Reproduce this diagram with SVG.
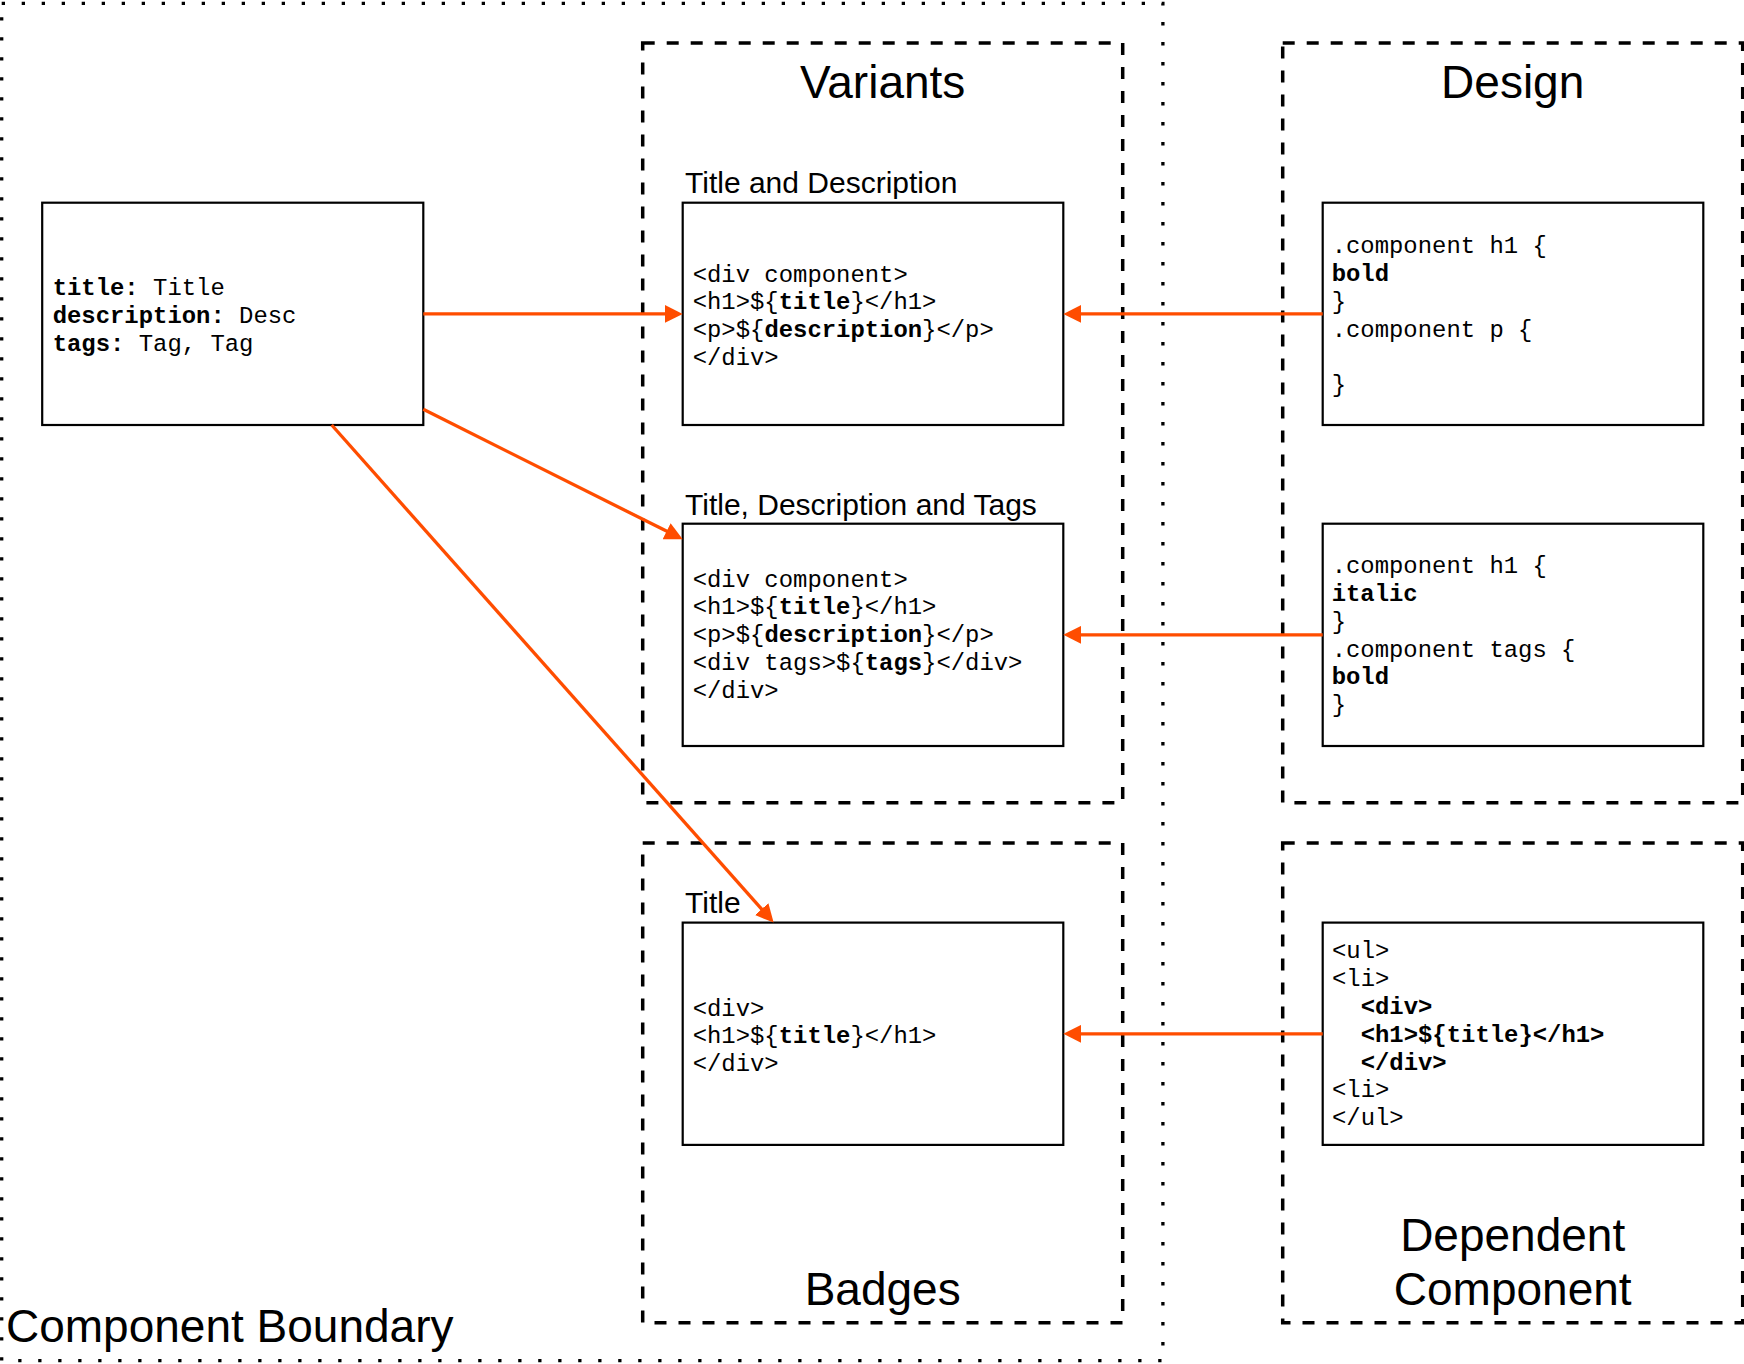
<svg xmlns="http://www.w3.org/2000/svg" width="1744" height="1364" viewBox="0 0 1744 1364">
<defs>
<style>
.bg{fill:#ffffff}
.boundary{fill:none;stroke:#000;stroke-width:3.3;stroke-dasharray:3.3 16.7}
.group{fill:none;stroke:#000;stroke-width:3.5;stroke-dasharray:12 12}
.box{fill:#fff;stroke:#000;stroke-width:2.2}
.big{font-family:"Liberation Sans",Arial,Helvetica,sans-serif;font-size:46px;fill:#000}
.sub{font-family:"Liberation Sans",Arial,Helvetica,sans-serif;font-size:30px;fill:#000}
.code{font-family:"Liberation Mono","Courier New",monospace;font-size:23.9px;fill:#000}
.b{font-weight:bold}
.conn{fill:none;stroke:#FF4D00;stroke-width:3.3}
</style>
<marker id="arrow" viewBox="0 0 18 18" markerUnits="userSpaceOnUse" markerWidth="18" markerHeight="18" refX="2" refY="9" orient="auto">
<path d="M0,0 L18,9 L0,18 z" fill="#FF4D00"/>
</marker>
</defs>
<rect class="bg" x="0" y="0" width="1744" height="1364"/>

<g id="component-boundary">
<rect class="boundary" x="1.7" y="3.3" width="1161.2" height="1357.4"/>
<text class="big" x="6" y="1342">Component Boundary</text>
</g>

<g id="variants">
<rect class="group" x="642.7" y="43" width="480" height="759.7"/>
<text class="big" x="882.7" y="98" text-anchor="middle">Variants</text>
</g>

<g id="design">
<rect class="group" x="1282.7" y="43" width="460" height="759.7"/>
<text class="big" x="1512.7" y="98" text-anchor="middle">Design</text>
</g>

<g id="badges">
<rect class="group" x="642.7" y="843" width="480" height="479.8"/>
<text class="big" x="882.7" y="1305" text-anchor="middle">Badges</text>
</g>

<g id="dependent-component">
<rect class="group" x="1282.7" y="843" width="460" height="479.8"/>
<text class="big" x="1512.7" y="1250.6" text-anchor="middle">Dependent</text>
<text class="big" x="1512.7" y="1305" text-anchor="middle">Component</text>
</g>

<g id="data">
<rect class="box" x="42.2" y="202.7" width="381.1" height="222.3"/>
<text class="code" x="52.7" y="295"><tspan class="b">title:</tspan> Title</text>
<text class="code" x="52.7" y="322.8"><tspan class="b">description:</tspan> Desc</text>
<text class="code" x="52.7" y="350.6"><tspan class="b">tags:</tspan> Tag, Tag</text>
</g>

<g id="title-and-description">
<text class="sub" x="685" y="193">Title and Description</text>
<rect class="box" x="682.7" y="202.7" width="380.6" height="222.3"/>
<text class="code" x="692.7" y="281.5">&lt;div component&gt;</text>
<text class="code" x="692.7" y="309.3">&lt;h1&gt;${<tspan class="b">title</tspan>}&lt;/h1&gt;</text>
<text class="code" x="692.7" y="337.1">&lt;p&gt;${<tspan class="b">description</tspan>}&lt;/p&gt;</text>
<text class="code" x="692.7" y="364.9">&lt;/div&gt;</text>
</g>

<g id="title-description-tags">
<text class="sub" x="685" y="515">Title, Description and Tags</text>
<rect class="box" x="682.7" y="523.7" width="380.6" height="222.3"/>
<text class="code" x="692.7" y="586.5">&lt;div component&gt;</text>
<text class="code" x="692.7" y="614.3">&lt;h1&gt;${<tspan class="b">title</tspan>}&lt;/h1&gt;</text>
<text class="code" x="692.7" y="642.1">&lt;p&gt;${<tspan class="b">description</tspan>}&lt;/p&gt;</text>
<text class="code" x="692.7" y="669.9">&lt;div tags&gt;${<tspan class="b">tags</tspan>}&lt;/div&gt;</text>
<text class="code" x="692.7" y="697.7">&lt;/div&gt;</text>
</g>

<g id="title-only">
<text class="sub" x="685" y="913.4">Title</text>
<rect class="box" x="682.7" y="922.6" width="380.6" height="222.3"/>
<text class="code" x="692.7" y="1015.5">&lt;div&gt;</text>
<text class="code" x="692.7" y="1043.3">&lt;h1&gt;${<tspan class="b">title</tspan>}&lt;/h1&gt;</text>
<text class="code" x="692.7" y="1071.1">&lt;/div&gt;</text>
</g>

<g id="design-bold">
<rect class="box" x="1322.7" y="202.7" width="380.6" height="222.3"/>
<text class="code" x="1331.7" y="253.2">.component h1 {</text>
<text class="code b" x="1331.7" y="281">bold</text>
<text class="code" x="1331.7" y="308.8">}</text>
<text class="code" x="1331.7" y="336.6">.component p {</text>
<text class="code" x="1331.7" y="392.2">}</text>
</g>

<g id="design-italic">
<rect class="box" x="1322.7" y="523.7" width="380.6" height="222.3"/>
<text class="code" x="1331.7" y="573.2">.component h1 {</text>
<text class="code b" x="1331.7" y="601">italic</text>
<text class="code" x="1331.7" y="628.8">}</text>
<text class="code" x="1331.7" y="656.6">.component tags {</text>
<text class="code b" x="1331.7" y="684.4">bold</text>
<text class="code" x="1331.7" y="712.2">}</text>
</g>

<g id="dependent-list">
<rect class="box" x="1322.7" y="922.6" width="380.6" height="222.3"/>
<text class="code" x="1332" y="958.4">&lt;ul&gt;</text>
<text class="code" x="1332" y="986.2">&lt;li&gt;</text>
<text class="code b" x="1360.7" y="1014">&lt;div&gt;</text>
<text class="code b" x="1360.7" y="1041.8">&lt;h1&gt;${title}&lt;/h1&gt;</text>
<text class="code b" x="1360.7" y="1069.6">&lt;/div&gt;</text>
<text class="code" x="1332" y="1097.4">&lt;li&gt;</text>
<text class="code" x="1332" y="1125.2">&lt;/ul&gt;</text>
</g>

<g id="connectors">
<line class="conn" x1="423.3" y1="313.9" x2="666.7" y2="313.9" marker-end="url(#arrow)"/>
<line class="conn" x1="423.3" y1="409.3" x2="668.4" y2="532.1" marker-end="url(#arrow)"/>
<line class="conn" x1="331.7" y1="425" x2="763.0" y2="910.6" marker-end="url(#arrow)"/>
<line class="conn" x1="1322.7" y1="313.9" x2="1079.3" y2="313.9" marker-end="url(#arrow)"/>
<line class="conn" x1="1322.7" y1="634.8" x2="1079.3" y2="634.8" marker-end="url(#arrow)"/>
<line class="conn" x1="1322.7" y1="1033.8" x2="1079.3" y2="1033.8" marker-end="url(#arrow)"/>
</g>
</svg>
